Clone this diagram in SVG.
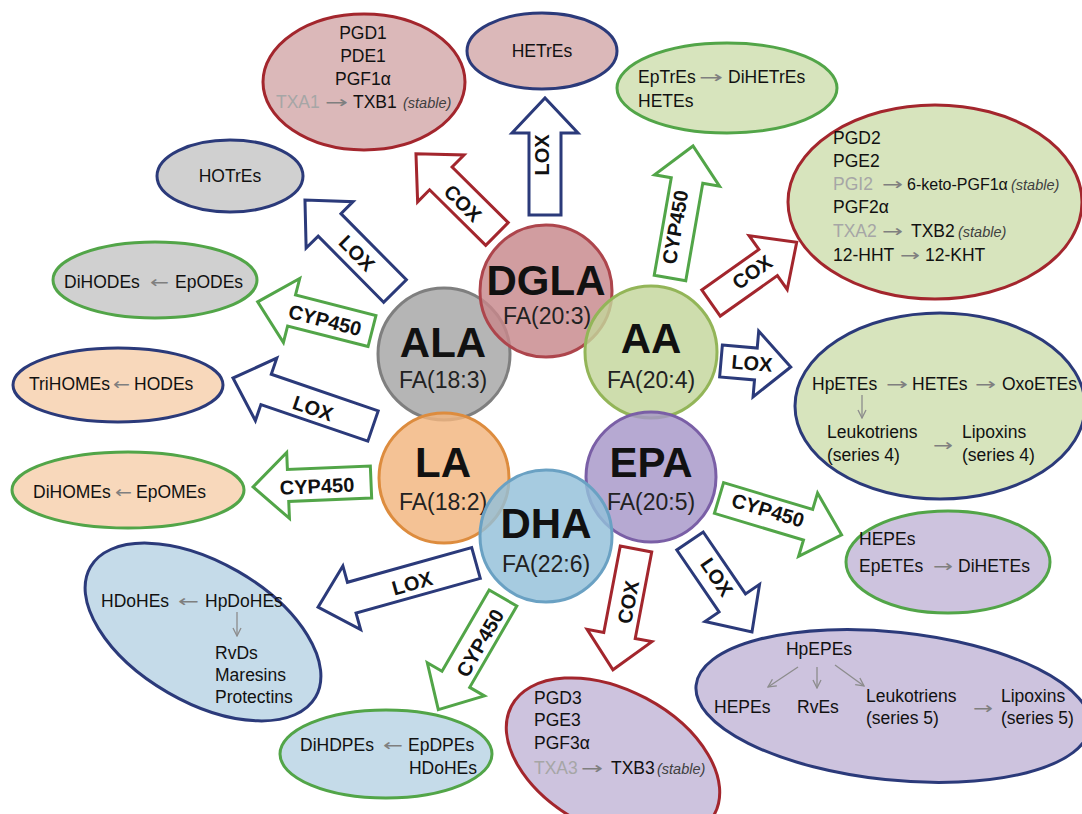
<svg xmlns="http://www.w3.org/2000/svg" width="1082" height="814" viewBox="0 0 1082 814">
<defs>
<style>
text{font-family:"Liberation Sans",Arial,sans-serif;fill:#111;}
.t{font-size:17.5px;}
.g{fill:#a6a6a6;}
.ar{fill:#7f7f7f;font-family:"DejaVu Sans",sans-serif;font-size:17px;}
.st{font-style:italic;font-size:14.5px;fill:#404040;}
.lbl{font-size:20px;font-weight:bold;text-anchor:middle;}
.big{font-size:42px;font-weight:bold;text-anchor:middle;}
.fa{font-size:23px;text-anchor:middle;fill:#222;}
.arw{fill:#fff;stroke-width:3;stroke-linejoin:miter;}
.cox{stroke:#a3262d;}
.lox{stroke:#2b3a7a;}
.cyp{stroke:#52a548;}
.el{stroke-width:3;}
.circ{stroke-width:3;fill-opacity:0.82;}
.sm{stroke:#8c8c8c;stroke-width:1.3;fill:none;}
</style>
<marker id="ah" markerWidth="10" markerHeight="10" refX="9" refY="5" orient="auto" markerUnits="userSpaceOnUse"><path d="M1,1 L9,5 L1,9" fill="none" stroke="#8c8c8c" stroke-width="1.3"/></marker>
</defs>
<rect width="1082" height="814" fill="#fff"/>

<g id="connectors">
<path class="arw cox" transform="translate(497,234) rotate(-135.3)" d="M0,-16 H79 V-33 L114,0 L79,33 V16 H0 Z"/>
<path class="arw lox" transform="translate(545,215) rotate(-90)" d="M0,-16 H82 V-33 L117,0 L82,33 V16 H0 Z"/>
<path class="arw lox" transform="translate(395,291) rotate(-134.7)" d="M0,-16 H93 V-33 L128,0 L93,33 V16 H0 Z"/>
<path class="arw cyp" transform="translate(372,331) rotate(-165.7)" d="M0,-16 H83 V-33 L118,0 L83,33 V16 H0 Z"/>
<path class="arw lox" transform="translate(373,426) rotate(-161.1)" d="M0,-16 H113 V-33 L148,0 L113,33 V16 H0 Z"/>
<path class="arw cyp" transform="translate(371,482) rotate(177.6)" d="M0,-16 H83 V-33 L118,0 L83,33 V16 H0 Z"/>
<path class="arw lox" transform="translate(476,563) rotate(164.4)" d="M0,-16 H129 V-33 L164,0 L129,33 V16 H0 Z"/>
<path class="arw cyp" transform="translate(503,598) rotate(120.1)" d="M0,-16 H94 V-33 L129,0 L94,33 V16 H0 Z"/>
<path class="arw cox" transform="translate(636,549) rotate(100.8)" d="M0,-16 H88 V-33 L123,0 L88,33 V16 H0 Z"/>
<path class="arw lox" transform="translate(690,541) rotate(55.7)" d="M0,-16 H75 V-33 L110,0 L75,33 V16 H0 Z"/>
<path class="arw cyp" transform="translate(719,498) rotate(16.7)" d="M0,-16 H93 V-33 L128,0 L93,33 V16 H0 Z"/>
<path class="arw lox" transform="translate(721,361) rotate(4.9)" d="M0,-16 H35 V-33 L70,0 L35,33 V16 H0 Z"/>
<path class="arw cox" transform="translate(711,303) rotate(-35.3)" d="M0,-16 H70 V-33 L105,0 L70,33 V16 H0 Z"/>
<path class="arw cyp" transform="translate(670,278) rotate(-80.1)" d="M0,-16 H99 V-33 L134,0 L99,33 V16 H0 Z"/>
<text class="lbl" transform="translate(463,203) rotate(44.7)" dy="0.36em">COX</text>
<text class="lbl" transform="translate(542,155) rotate(-90)" dy="0.36em">LOX</text>
<text class="lbl" transform="translate(357,253) rotate(45.3)" dy="0.36em">LOX</text>
<text class="lbl" transform="translate(325,320) rotate(14.3)" dy="0.36em">CYP450</text>
<text class="lbl" transform="translate(313,408) rotate(18.9)" dy="0.36em">LOX</text>
<text class="lbl" transform="translate(317,486) rotate(-2.4)" dy="0.36em">CYP450</text>
<text class="lbl" transform="translate(412,583) rotate(-15.6)" dy="0.36em">LOX</text>
<text class="lbl" transform="translate(480,643) rotate(-59.9)" dy="0.36em">CYP450</text>
<text class="lbl" transform="translate(628,602) rotate(-79.2)" dy="0.36em">COX</text>
<text class="lbl" transform="translate(717,577) rotate(55.7)" dy="0.36em">LOX</text>
<text class="lbl" transform="translate(768,510) rotate(16.7)" dy="0.36em">CYP450</text>
<text class="lbl" transform="translate(752,363) rotate(4.9)" dy="0.36em">LOX</text>
<text class="lbl" transform="translate(752,272) rotate(-35.3)" dy="0.36em">COX</text>
<text class="lbl" transform="translate(675,227) rotate(-80.1)" dy="0.36em">CYP450</text>
</g>

<g id="dgla-cox">
<ellipse class="el" cx="364" cy="82" rx="101" ry="68" fill="#dbb8b9" stroke="#a3262d"/>
<text class="t" x="363" y="39" text-anchor="middle">PGD1</text>
<text class="t" x="363" y="62" text-anchor="middle">PDE1</text>
<text class="t" x="363" y="85" text-anchor="middle">PGF1α</text>
<text class="t" y="108"><tspan class="g" x="276">TXA1</tspan><tspan class="ar" x="325" textLength="23" lengthAdjust="spacingAndGlyphs">→</tspan><tspan x="353">TXB1</tspan><tspan class="st" x="403">(stable)</tspan></text>
</g>
<g id="dgla-lox">
<ellipse class="el" cx="542" cy="51" rx="75" ry="38" fill="#dbb8b9" stroke="#2b3a7a"/>
<text class="t" x="542" y="57" text-anchor="middle">HETrEs</text>
</g>
<g id="aa-cyp">
<ellipse class="el" cx="727" cy="88" rx="110" ry="45" fill="#d7e4bd" stroke="#52a548"/>
<text class="t" y="83"><tspan x="638">EpTrEs</tspan><tspan class="ar" x="699" textLength="24" lengthAdjust="spacingAndGlyphs">→</tspan><tspan x="728">DiHETrEs</tspan></text>
<text class="t" x="638" y="107">HETEs</text>
</g>
<g id="aa-cox">
<ellipse class="el" cx="935" cy="202" rx="147" ry="97" fill="#d7e4bd" stroke="#a3262d"/>
<text class="t" x="833" y="144">PGD2</text>
<text class="t" x="833" y="167">PGE2</text>
<text class="t" y="190"><tspan class="g" x="833">PGI2</tspan><tspan class="ar" x="882" textLength="21" lengthAdjust="spacingAndGlyphs">→</tspan><tspan x="907" font-size="16">6-keto-PGF1α</tspan><tspan class="st" x="1011" font-size="14">(stable)</tspan></text>
<text class="t" x="833" y="213">PGF2α</text>
<text class="t" y="237"><tspan class="g" x="833">TXA2</tspan><tspan class="ar" x="882" textLength="21" lengthAdjust="spacingAndGlyphs">→</tspan><tspan x="911">TXB2</tspan><tspan class="st" x="958">(stable)</tspan></text>
<text class="t" y="261"><tspan x="833">12-HHT</tspan><tspan class="ar" x="900" textLength="20" lengthAdjust="spacingAndGlyphs">→</tspan><tspan x="925">12-KHT</tspan></text>
</g>
<g id="ala-lox">
<ellipse class="el" cx="230" cy="176" rx="73" ry="36" fill="#d0d0d0" stroke="#2b3a7a"/>
<text class="t" x="230" y="182" text-anchor="middle">HOTrEs</text>
</g>
<g id="ala-cyp">
<ellipse class="el" cx="155" cy="280" rx="102" ry="38" fill="#d0d0d0" stroke="#52a548"/>
<text class="t" y="288"><tspan x="64">DiHODEs</tspan><tspan class="ar" x="150" textLength="19" lengthAdjust="spacingAndGlyphs">←</tspan><tspan x="175">EpODEs</tspan></text>
</g>
<g id="la-lox">
<ellipse class="el" cx="118" cy="385" rx="105" ry="37" fill="#f8d8bb" stroke="#2b3a7a"/>
<text class="t" y="390"><tspan x="29">TriHOMEs</tspan><tspan class="ar" x="113" textLength="17" lengthAdjust="spacingAndGlyphs">←</tspan><tspan x="134">HODEs</tspan></text>
</g>
<g id="la-cyp">
<ellipse class="el" cx="128" cy="490" rx="116" ry="38" fill="#f8d8bb" stroke="#52a548"/>
<text class="t" y="498"><tspan x="33">DiHOMEs</tspan><tspan class="ar" x="115" textLength="17" lengthAdjust="spacingAndGlyphs">←</tspan><tspan x="136">EpOMEs</tspan></text>
</g>
<g id="dha-lox">
<ellipse class="el" cx="203" cy="632" rx="130" ry="70" transform="rotate(30 203 632)" fill="#c5dbe9" stroke="#2b3a7a"/>
<text class="t" y="607"><tspan x="101">HDoHEs</tspan><tspan class="ar" x="178" textLength="21" lengthAdjust="spacingAndGlyphs">←</tspan><tspan x="205">HpDoHEs</tspan></text>
<line class="sm" x1="237" y1="612" x2="237" y2="636" marker-end="url(#ah)"/>
<text class="t" x="215" y="659">RvDs</text>
<text class="t" x="215" y="681">Maresins</text>
<text class="t" x="215" y="703">Protectins</text>
</g>
<g id="dha-cyp">
<ellipse class="el" cx="386" cy="754" rx="106" ry="44" fill="#c5dbe9" stroke="#52a548"/>
<text class="t" y="751"><tspan x="300">DiHDPEs</tspan><tspan class="ar" x="383" textLength="20" lengthAdjust="spacingAndGlyphs">←</tspan><tspan x="408">EpDPEs</tspan></text>
<text class="t" x="477" y="774" text-anchor="end">HDoHEs</text>
</g>
<g id="epa-cox">
<ellipse class="el" cx="613" cy="760" rx="115" ry="70" transform="rotate(28 613 760)" fill="#cdc3de" stroke="#a3262d"/>
<text class="t" x="534" y="704">PGD3</text>
<text class="t" x="534" y="726">PGE3</text>
<text class="t" x="534" y="749">PGF3α</text>
<text class="t" y="774"><tspan class="g" x="534">TXA3</tspan><tspan class="ar" x="581" textLength="22" lengthAdjust="spacingAndGlyphs">→</tspan><tspan x="611">TXB3</tspan><tspan class="st" x="657">(stable)</tspan></text>
</g>
<g id="epa-cyp">
<ellipse class="el" cx="948" cy="562" rx="102" ry="51" fill="#cdc3de" stroke="#52a548"/>
<text class="t" x="859" y="545">HEPEs</text>
<text class="t" y="572"><tspan x="859">EpETEs</tspan><tspan class="ar" x="933" textLength="20" lengthAdjust="spacingAndGlyphs">→</tspan><tspan x="958">DiHETEs</tspan></text>
</g>
<g id="epa-lox">
<ellipse class="el" cx="893" cy="706" rx="198" ry="74" transform="rotate(6 893 706)" fill="#cdc3de" stroke="#2b3a7a"/>
<text class="t" x="819" y="655" text-anchor="middle">HpEPEs</text>
<line class="sm" x1="798" y1="667" x2="768" y2="687" marker-end="url(#ah)"/>
<line class="sm" x1="817" y1="667" x2="817" y2="688" marker-end="url(#ah)"/>
<line class="sm" x1="835" y1="665" x2="864" y2="686" marker-end="url(#ah)"/>
<text class="t" x="714" y="713">HEPEs</text>
<text class="t" x="797" y="713">RvEs</text>
<text class="t" x="866" y="702">Leukotriens</text>
<text class="t" x="866" y="724">(series 5)</text>
<text class="ar" x="973" y="714" textLength="20" lengthAdjust="spacingAndGlyphs">→</text>
<text class="t" x="1001" y="702">Lipoxins</text>
<text class="t" x="1001" y="724">(series 5)</text>
</g>
<g id="aa-lox">
<ellipse class="el" cx="940" cy="406" rx="145" ry="93" fill="#d7e4bd" stroke="#2b3a7a"/>
<text class="t" y="390"><tspan x="812">HpETEs</tspan><tspan class="ar" x="886" textLength="22" lengthAdjust="spacingAndGlyphs">→</tspan><tspan x="912">HETEs</tspan><tspan class="ar" x="975" textLength="21" lengthAdjust="spacingAndGlyphs">→</tspan><tspan x="1002">OxoETEs</tspan></text>
<line class="sm" x1="862" y1="395" x2="862" y2="418" marker-end="url(#ah)"/>
<text class="t" x="827" y="438">Leukotriens</text>
<text class="t" x="827" y="461">(series 4)</text>
<text class="ar" x="933" y="451" textLength="20" lengthAdjust="spacingAndGlyphs">→</text>
<text class="t" x="962" y="438">Lipoxins</text>
<text class="t" x="962" y="461">(series 4)</text>
</g>

<g id="ALA">
<circle class="circ" cx="444" cy="354" r="66" fill="#a5a5a5" stroke="#7f7f7f"/>
<text class="big" x="443" y="357">ALA</text>
<text class="fa" x="443" y="388">FA(18:3)</text>
</g>
<g id="DGLA">
<circle class="circ" cx="546" cy="291" r="66" fill="#c7878b" stroke="#ad454c"/>
<text class="big" x="546" y="295">DGLA</text>
<text class="fa" x="547" y="324">FA(20:3)</text>
</g>
<g id="AA">
<circle class="circ" cx="651" cy="352" r="66" fill="#c3d69b" stroke="#93b558"/>
<text class="big" x="651" y="353">AA</text>
<text class="fa" x="651" y="388">FA(20:4)</text>
</g>
<g id="LA">
<circle class="circ" cx="444" cy="478" r="65" fill="#f2b57e" stroke="#dd8c3e"/>
<text class="big" x="443" y="477">LA</text>
<text class="fa" x="443" y="510">FA(18:2)</text>
</g>
<g id="EPA">
<circle class="circ" cx="651" cy="477" r="65" fill="#a696c8" stroke="#7a5fa6"/>
<text class="big" x="651" y="477">EPA</text>
<text class="fa" x="651" y="510">FA(20:5)</text>
</g>
<g id="DHA">
<circle class="circ" cx="546" cy="536" r="66" fill="#93c0d9" stroke="#6aa1c3"/>
<text class="big" x="546" y="538">DHA</text>
<text class="fa" x="546" y="572">FA(22:6)</text>
</g>
</svg>
